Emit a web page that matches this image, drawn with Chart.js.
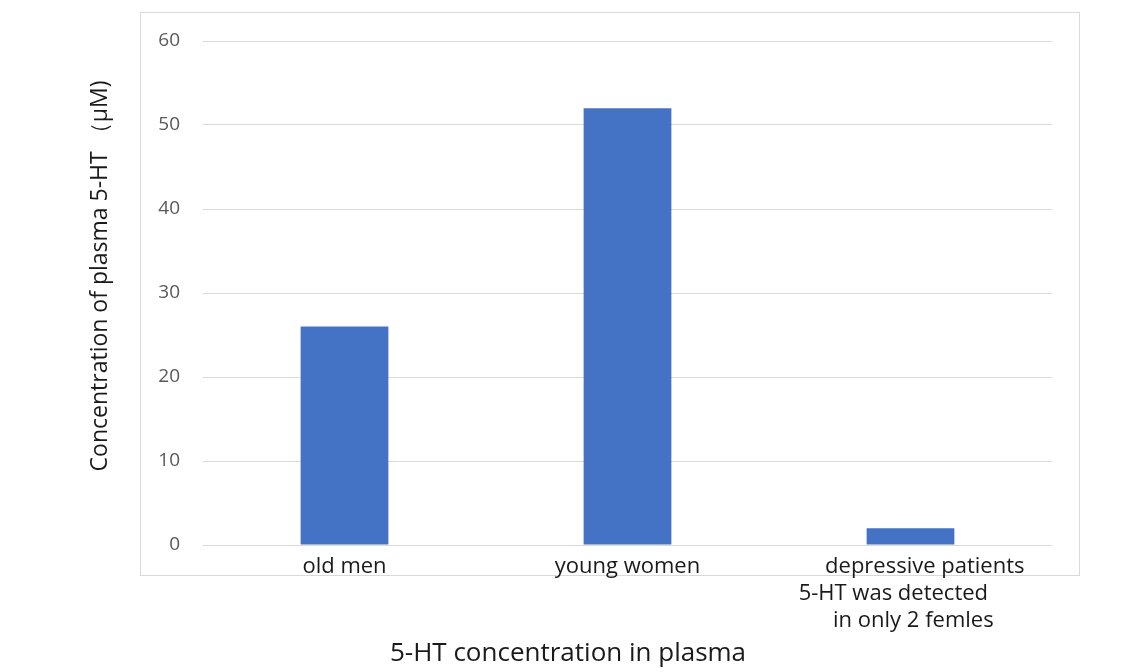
<!DOCTYPE html>
<html>
<head>
<meta charset="utf-8">
<script src="https://cdn.jsdelivr.net/npm/chart.js@4"></script>
<style>
  html, body { margin: 0; padding: 0; background: #ffffff; }
  #wrap { width: 1143px; height: 672px; }
</style>
</head>
<body>
<div id="wrap"><canvas id="c" width="1143" height="672"></canvas></div>
<script>
const categories = [
  ["old men"],
  ["young women"],
  ["     depressive patients", "5-HT was detected      ", " in only 2 femles"]
];
const concentrations = [26, 52, 2];
const yTicks = [0, 10, 20, 30, 40, 50, 60];
const xAxisTitle = "5-HT concentration in plasma";
const yAxisTitle = "Concentration of plasma 5-HT （μM)";

const FONT = "'Open Sans', 'Noto Sans', sans-serif";

const frameAndTitles = {
  id: 'frameAndTitles',
  beforeDraw(chart) {
    const ctx = chart.ctx;
    ctx.save();
    ctx.fillStyle = '#ffffff';
    ctx.fillRect(0, 0, chart.width, chart.height);
    ctx.strokeStyle = '#d9d9d9';
    ctx.lineWidth = 1;
    ctx.strokeRect(140.5, 12.5, 939, 563);
    ctx.restore();
  },
  afterDraw(chart) {
    const ctx = chart.ctx;
    ctx.save();
    ctx.fillStyle = '#1a1a1a';
    ctx.textAlign = 'center';
    ctx.textBaseline = 'middle';
    ctx.font = "26px " + FONT;
    ctx.fillText(xAxisTitle, 568, 654);
    ctx.translate(100, 276);
    ctx.rotate(-Math.PI / 2);
    ctx.font = "23px " + FONT;
    ctx.fillText(yAxisTitle, 0, 0);
    ctx.restore();
  }
};

new Chart(document.getElementById('c'), {
  type: 'bar',
  data: {
    labels: categories,
    datasets: [{
      data: concentrations,
      backgroundColor: '#4472C4',
      borderWidth: 0,
      categoryPercentage: 1.0,
      barPercentage: 0.31
    }]
  },
  options: {
    responsive: false,
    animation: false,
    devicePixelRatio: 1,
    layout: { padding: { top: 41, right: 91, left: 0, bottom: 0 } },
    plugins: { legend: { display: false }, tooltip: { enabled: false } },
    scales: {
      x: {
        grid: { display: false, drawTicks: false },
        border: { display: false },
        ticks: {
          color: '#1a1a1a',
          font: { family: FONT, size: 22, lineHeight: 1.23 },
          padding: 8,
          maxRotation: 0,
          autoSkip: false
        },
        afterFit(scale) { scale.height = 127; }
      },
      y: {
        min: 0,
        max: 60,
        afterBuildTicks(scale) { scale.ticks = yTicks.map(v => ({ value: v })); },
        grid: { color: '#d9d9d9', drawTicks: false, lineWidth: 1 },
        border: { display: false },
        ticks: {
          color: '#595959',
          font: { family: FONT, size: 19 },
          padding: 23
        },
        afterFit(scale) { scale.width = 203; }
      }
    }
  },
  plugins: [frameAndTitles]
});
</script>
</body>
</html>
